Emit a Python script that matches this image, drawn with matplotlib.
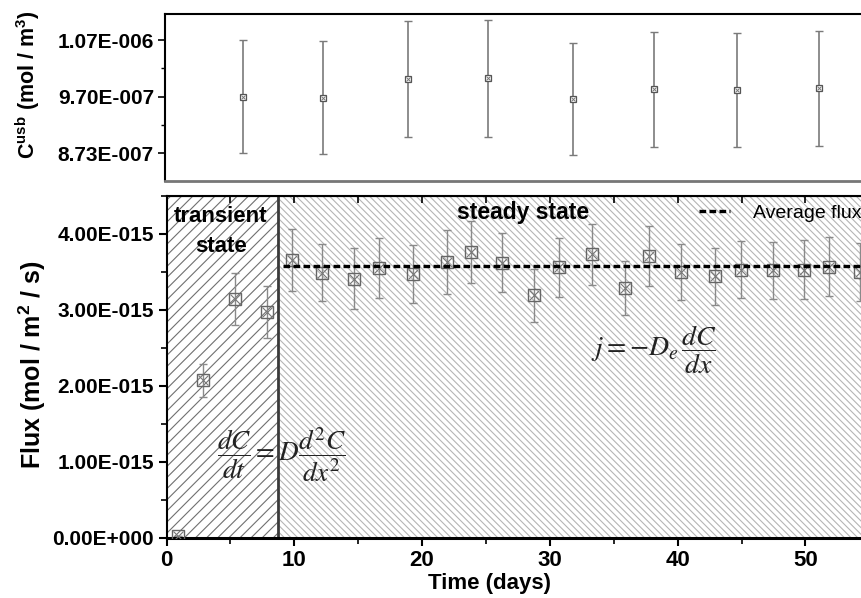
import numpy as np
import matplotlib
matplotlib.use('Agg')
import matplotlib.pyplot as plt
from matplotlib.ticker import FixedLocator, MultipleLocator, FuncFormatter

# top panel: upstream boundary concentration
conc_days = [6.09, 12.38, 19.0, 25.29, 31.89, 38.28, 44.74, 51.21]
conc = [9.70e-7, 9.683e-7, 1.0003e-6, 1.0015e-6, 9.661e-7, 9.827e-7, 9.820e-7, 9.844e-7]
conc_err = [9.67e-8, 9.63e-8, 9.96e-8, 9.98e-8, 9.63e-8, 9.80e-8, 9.78e-8, 9.84e-8]
conc_ticks = [8.73e-7, 9.70e-7, 1.067e-6]
conc_ticklabels = ['8.73E-007', '9.70E-007', '1.07E-006']

# bottom panel: flux through the sample
flux_days = [0.92, 2.88, 5.36, 7.84, 9.80, 12.19, 14.70, 16.65, 19.31, 21.93,
             23.85, 26.23, 28.73, 30.71, 33.29, 35.88, 37.78, 40.28, 42.92,
             44.93, 47.43, 49.88, 51.82, 54.27]
flux = [0.02e-15, 2.07e-15, 3.14e-15, 2.97e-15, 3.66e-15, 3.49e-15, 3.41e-15,
        3.55e-15, 3.47e-15, 3.63e-15, 3.76e-15, 3.62e-15, 3.19e-15, 3.56e-15,
        3.73e-15, 3.29e-15, 3.71e-15, 3.50e-15, 3.44e-15, 3.53e-15, 3.52e-15,
        3.53e-15, 3.57e-15, 3.50e-15]
flux_err = [0.0, 0.22e-15, 0.34e-15, 0.34e-15, 0.41e-15, 0.38e-15, 0.40e-15,
            0.40e-15, 0.38e-15, 0.42e-15, 0.41e-15, 0.39e-15, 0.35e-15, 0.39e-15,
            0.40e-15, 0.36e-15, 0.40e-15, 0.37e-15, 0.38e-15, 0.38e-15, 0.38e-15,
            0.39e-15, 0.39e-15, 0.38e-15]

transient_end = 8.75
avg_flux = 3.58e-15
avg_start = 9.1
x_max = 56

plt.rcParams['font.family'] = ['Liberation Sans', 'DejaVu Sans']
plt.rcParams['mathtext.fontset'] = 'custom'
plt.rcParams['mathtext.rm'] = 'Liberation Sans'
plt.rcParams['mathtext.bf'] = 'Liberation Sans:bold'
plt.rcParams['mathtext.it'] = 'Liberation Sans:italic'
plt.rcParams['hatch.linewidth'] = 0.8


def sci_fmt(v, pos=None):
    if v == 0:
        return '0.00E+000'
    e = int(np.floor(np.log10(abs(v))))
    m = v / 10 ** e
    sign = '+' if e >= 0 else '-'
    return '%.2fE%s%03d' % (m, sign, abs(e))


fig = plt.figure(figsize=(8.61, 5.98), dpi=100)
W, H = 861, 598
px_per_day = 12.78

# ---- top panel
ax1 = fig.add_axes([165 / W, 1 - 181 / H, x_max * px_per_day / W, (181 - 14) / H])
ax1.errorbar(conc_days, conc, yerr=conc_err, fmt='none', ecolor='#7a7a7a',
             elinewidth=1.2, capsize=3, capthick=1)
ax1.plot(conc_days, conc, 's', mfc='white', mec='#555555', ms=5, mew=0.9)
ax1.plot(conc_days, conc, 'x', color='#777777', ms=3, mew=0.7)
ax1.set_xlim(0, x_max)
ax1.set_ylim(8.258e-7, 1.1115e-6)
ax1.yaxis.set_major_locator(FixedLocator(conc_ticks))
ax1.set_yticklabels(conc_ticklabels)
ax1.yaxis.set_minor_locator(FixedLocator([9.215e-7, 1.0185e-6]))
ax1.set_xticks([])
ax1.tick_params(axis='y', which='major', direction='out', length=5, width=1.2,
                labelsize=15, pad=3)
ax1.tick_params(axis='y', which='minor', direction='out', length=3, width=1)
for lab in ax1.get_yticklabels():
    lab.set_fontweight('bold')
ax1.spines['right'].set_visible(False)
ax1.spines['top'].set_linewidth(1.5)
ax1.spines['left'].set_linewidth(1.5)
ax1.spines['bottom'].set_linewidth(2)
ax1.spines['bottom'].set_color('#777777')

fig.text(28 / W, 1 - 85 / H, r'C$^{\mathbf{usb}}$ (mol / m$^{\mathbf{3}}$)',
         rotation=90, ha='center', va='center', fontsize=15.5, fontweight='bold')

# ---- bottom panel
ax2 = fig.add_axes([166.5 / W, 1 - 537.5 / H, x_max * px_per_day / W, (537.5 - 196) / H])
ax2.axvspan(0, transient_end, facecolor='white', edgecolor='#707070',
            hatch='///', linewidth=0, zorder=0)
ax2.axvspan(transient_end, x_max, facecolor='white', edgecolor='#b5b5b5',
            hatch='\\\\\\\\\\', linewidth=0, zorder=0)
ax2.axvline(transient_end, color='#3a3a3a', lw=2, zorder=1)

ax2.errorbar(flux_days, flux, yerr=flux_err, fmt='none', ecolor='#8a8a8a',
             elinewidth=1, capsize=3, capthick=1, zorder=2)
ax2.plot(flux_days, flux, 's', mfc='none', mec='#666666', ms=9, mew=1, zorder=3)
ax2.plot(flux_days, flux, 'x', color='#777777', ms=7, mew=0.8, zorder=3)
ax2.plot([avg_start, x_max], [avg_flux, avg_flux], color='black', lw=2.4,
         ls=(0, (2.0, 1.0)), zorder=4, label='Average flux')

ax2.set_xlim(0, x_max)
ax2.set_ylim(0, 4.5e-15)
ax2.xaxis.set_major_locator(MultipleLocator(10))
ax2.xaxis.set_minor_locator(MultipleLocator(5))
ax2.yaxis.set_major_locator(MultipleLocator(1e-15))
ax2.yaxis.set_minor_locator(MultipleLocator(0.5e-15))
ax2.yaxis.set_major_formatter(FuncFormatter(sci_fmt))
ax2.tick_params(which='major', direction='out', length=6, width=1.5,
                labelsize=15, pad=3)
ax2.tick_params(axis='x', which='major', labelsize=16, pad=3)
ax2.tick_params(which='minor', direction='out', length=4, width=1.2)
for lab in ax2.get_xticklabels() + ax2.get_yticklabels():
    lab.set_fontweight('bold')
top = ax2.secondary_xaxis('top')
top.xaxis.set_major_locator(MultipleLocator(5))
top.tick_params(direction='in', length=5, width=1.2, labeltop=False)
ax2.spines['right'].set_visible(False)
ax2.spines['top'].set_linewidth(1.5)
ax2.spines['left'].set_linewidth(1.5)
ax2.spines['bottom'].set_linewidth(2.2)

fig.text(32 / W, 1 - 365 / H, 'Flux (mol / m$^{\\mathbf{2}}$ / s)',
         rotation=90, ha='center', va='center', fontsize=18, fontweight='bold')
fig.text(490 / W, 1 - 583 / H, 'Time (days)', ha='center', va='center',
         fontsize=16, fontweight='bold')

fig.text(221 / W, 1 - 231.5 / H, 'transient\nstate', ha='center', va='center',
         fontsize=16, fontweight='bold', linespacing=1.5)
fig.text(523 / W, 1 - 213 / H, 'steady state', ha='center', va='center',
         fontsize=16.5, fontweight='bold')

ax2.legend(loc='center left', bbox_to_anchor=(699 / W, 1 - 213 / H),
           bbox_transform=fig.transFigure, frameon=False, fontsize=14,
           handlelength=1.6, handletextpad=1.2, borderpad=0, borderaxespad=0)

fig.text(654 / W, 1 - 350 / H, r'$j=-D_e\,\dfrac{dC}{dx}$', ha='center',
         va='center', fontsize=20, math_fontfamily='stix', color='#222222')
fig.text(282 / W, 1 - 455 / H, r'$\dfrac{dC}{dt}=D\dfrac{d^2C}{dx^2}$',
         ha='center', va='center', fontsize=19.5, math_fontfamily='stix',
         color='#222222')

fig.savefig('out.png', dpi=100)
